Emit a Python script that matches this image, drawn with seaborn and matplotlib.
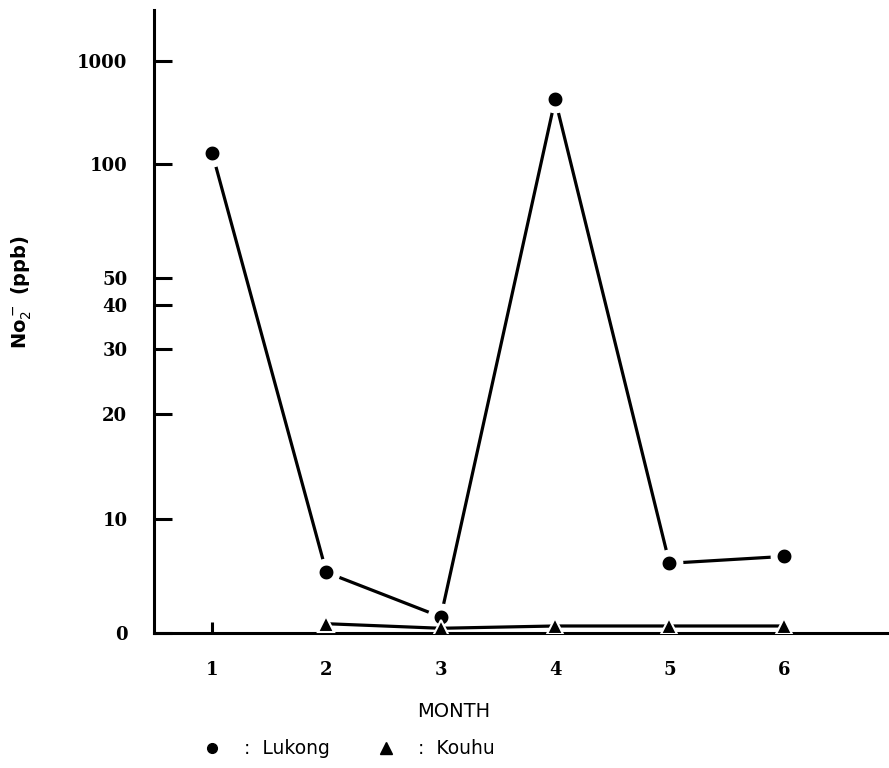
import numpy as np
import pandas as pd
import seaborn as sns
import matplotlib.pyplot as plt
from matplotlib.lines import Line2D

# values (NO2-, ppb)
months = [1, 2, 3, 4, 5, 6]
lukong = [128, 5.3, 1.4, 420, 6.1, 6.7]
kouhu_months = [2, 3, 4, 5, 6]
kouhu = [0.8, 0.4, 0.6, 0.6, 0.6]

ytick_vals = [0, 10, 20, 30, 40, 50, 100, 1000]
ytick_labels = ["0", "10", "20", "30", "40", "50", "100", "1000"]

df_l = pd.DataFrame({"month": months, "no2": lukong})
df_k = pd.DataFrame({"month": kouhu_months, "no2": kouhu})

# hand-drawn axis: linear up to 50, log-like above; map with the tick spacing
knot_vals = np.array([0, 10, 20, 30, 40, 50, 100, 1000, 10000], dtype=float)
knot_pos = np.array([0, 114, 219, 284, 328, 355, 469, 572, 675], dtype=float)


def g(v):
    v = np.asarray(v, dtype=float)
    return np.where(v <= 50, v, 50 + 50 * np.log10(np.maximum(v, 50) / 50))


def g_inv(u):
    u = np.asarray(u, dtype=float)
    return np.where(u <= 50, u, 50 * 10 ** ((np.maximum(u, 50) - 50) / 50))


def forward(v):
    return np.interp(g(v), g(knot_vals), knot_pos)


def inverse(p):
    return g_inv(np.interp(p, knot_pos, g(knot_vals)))


sns.set_style("ticks")
plt.rcParams["font.family"] = ["DejaVu Sans"]
plt.rcParams["text.color"] = "black"
plt.rcParams["xtick.color"] = "black"
plt.rcParams["ytick.color"] = "black"

fig = plt.figure(figsize=(8.89, 7.68), dpi=100)
ax = fig.add_axes([0.173, 0.176, 0.827, 0.811])

sns.lineplot(data=df_l, x="month", y="no2", color="black", lw=2.3,
             marker="o", markersize=15, markeredgecolor="white",
             markeredgewidth=5, ax=ax, zorder=3)
sns.lineplot(data=df_k, x="month", y="no2", color="black", lw=2.3,
             marker="^", markersize=11, markeredgecolor="white",
             markeredgewidth=1.5, ax=ax, zorder=4)

ax.set_yscale("function", functions=(forward, inverse))
ax.set_ylim(0, 3100)
ax.set_xlim(0.49, 6.92)

ax.set_yticks(ytick_vals)
ax.set_yticklabels(ytick_labels, family="DejaVu Serif", fontsize=13,
                   fontweight="bold")
ax.set_xticks(months)
ax.set_xticklabels([str(m) for m in months], family="DejaVu Serif",
                   fontsize=13, fontweight="bold")
ax.xaxis.remove_overlapping_locs = False
ax.set_xticks([1], minor=True)

ax.tick_params(axis="y", direction="in", length=13, width=2.2, pad=19)
ax.tick_params(axis="x", which="major", length=0, pad=20)
ax.tick_params(axis="x", which="minor", direction="in", length=8, width=2.2)

for s in ["top", "right"]:
    ax.spines[s].set_visible(False)
for s in ["left", "bottom"]:
    ax.spines[s].set_linewidth(2.2)
    ax.spines[s].set_color("black")

ax.set_xlabel("")
ax.set_ylabel("")
fig.text(0.025, 0.62, "No$_2^-$ (ppb)", rotation=90, ha="center", va="center",
         fontsize=14, fontweight="bold")
fig.text(0.51, 0.073, "MONTH", ha="center", va="center", fontsize=14)

handles = [Line2D([], [], ls="none", marker="o", color="black", markersize=7),
           Line2D([], [], ls="none", marker="^", color="black", markersize=8)]
fig.legend(handles, [":  Lukong", ":  Kouhu"], ncol=2, loc="center",
           bbox_to_anchor=(0.392, 0.025), frameon=False, fontsize=13.5,
           handletextpad=1.2, columnspacing=2.5, handlelength=1)

fig.savefig("out.png", dpi=100)
